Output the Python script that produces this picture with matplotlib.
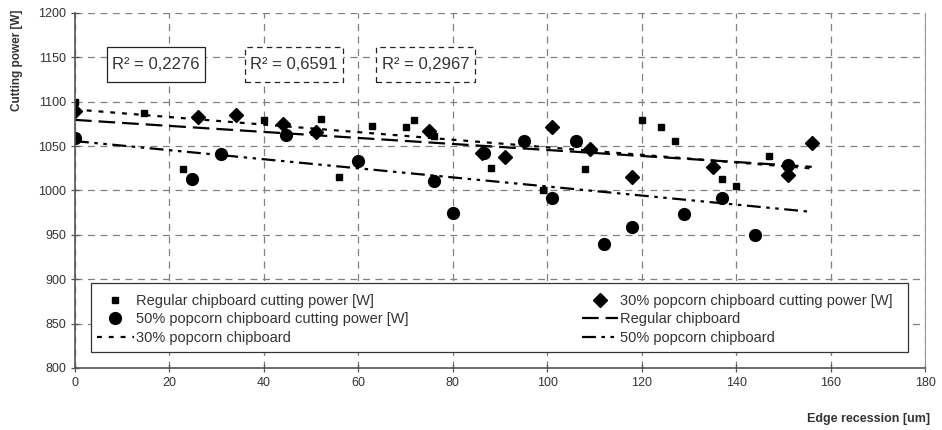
import numpy as np
import matplotlib
matplotlib.use("Agg")
import matplotlib.pyplot as plt
from matplotlib.patches import Rectangle

plt.rcParams['font.family'] = ['Liberation Sans', 'DejaVu Sans']
plt.rcParams['lines.scale_dashes'] = False

# readings
reg_x = [0, 14.6, 22.9, 40, 52, 56, 62.8, 70, 71.8, 76, 88, 99, 108, 120, 124, 127, 137, 140, 147]
reg_y = [1100, 1087, 1024, 1079, 1081, 1015, 1073, 1071, 1079, 1061, 1025, 1001, 1024, 1079, 1072, 1056, 1013, 1005, 1039]

p30_x = [0, 26, 34, 44, 51, 75, 86.2, 91, 101, 109, 118, 135, 151, 156]
p30_y = [1090, 1082.5, 1085.4, 1074.5, 1066, 1066.5, 1042.6, 1038, 1072, 1047, 1015, 1026, 1017, 1054]

p50_x = [0, 24.7, 31, 44.6, 60, 76, 80, 86.7, 95, 101, 106, 112, 118, 129, 137, 144, 151]
p50_y = [1059, 1012.6, 1041, 1063, 1033, 1011, 975, 1042, 1056, 991, 1056, 940, 958.5, 973, 991.6, 949.5, 1029]

r2_labels = ["R² = 0,2276", "R² = 0,6591", "R² = 0,2967"]
r2_x = [17.2, 46.3, 74.2]
r2_y = [1142, 1142, 1142]

txt = '#333333'
grid = '#808080'

fig = plt.figure(figsize=(9.42, 4.30), dpi=100)
ax = fig.add_axes([0.0796, 0.1442, 0.9024, 0.8256])

def trend(xs, ys):
    k, b = np.polyfit(xs, ys, 1)
    xx = np.array([0, max(max(reg_x), max(p30_x), max(p50_x))])
    return xx, k * xx + b

h_reg, = ax.plot(reg_x, reg_y, 's', color='black', ms=4.8, ls='none',
                 label='Regular chipboard cutting power [W]')
h_30, = ax.plot(p30_x, p30_y, 'D', color='black', ms=7, ls='none',
                label='30% popcorn chipboard cutting power [W]')
h_50, = ax.plot(p50_x, p50_y, 'o', color='black', ms=8.5, ls='none',
                label='50% popcorn chipboard cutting power [W]')

xx, yy = trend(reg_x, reg_y)
l_reg, = ax.plot(xx, yy, color='black', lw=1.6, ls=(0, (12, 5)), label='Regular chipboard')
xx, yy = trend(p30_x, p30_y)
l_30, = ax.plot(xx, yy, color='black', lw=1.6, ls=(0, (3.5, 5)), label='30% popcorn chipboard')
xx, yy = trend(p50_x, p50_y)
l_50, = ax.plot(xx, yy, color='black', lw=1.6, ls=(0, (10, 4, 2.5, 4, 2.5, 4)),
                label='50% popcorn chipboard')

# R² labels with their frames
box_w, box_h = 20.8, 39.4
styles = ['-', (0, (4, 3)), (0, (4, 3))]
for lab, x, y, s in zip(r2_labels, r2_x, r2_y, styles):
    ax.add_patch(Rectangle((x - box_w / 2, y - box_h / 2), box_w, box_h,
                           fc='white', ec='#222222', lw=0.9, ls=s, zorder=3))
    ax.text(x, y, lab, ha='center', va='center', fontsize=12, color=txt, zorder=4)

ax.set_xlim(0, 180)
ax.set_ylim(800, 1200)
ax.set_xticks(np.arange(0, 181, 20))
ax.set_yticks(np.arange(800, 1201, 50))
ax.grid(True, color=grid, ls=(0, (5, 4)), lw=0.9)
ax.set_axisbelow(True)
ax.tick_params(direction='inout', length=6, width=0.9, colors='#555555',
               labelcolor=txt, labelsize=9)
for s in ['left', 'bottom']:
    ax.spines[s].set_color('#555555')
    ax.spines[s].set_linewidth(1.2)
ax.spines['right'].set_color('#999999')
ax.spines['top'].set_visible(False)

# legend frame, then legend contents without their own frame
ax.add_patch(Rectangle((0.0188, 0.045), 0.961, 0.194, transform=ax.transAxes,
                       fc='white', ec='#333333', lw=0.9, zorder=5))
leg = ax.legend(handles=[h_reg, h_50, l_30, h_30, l_reg, l_50], ncol=2,
                loc='center left', bbox_to_anchor=(0.026, 0.137),
                fontsize=10.5, frameon=False, handlelength=2.5,
                handletextpad=0.15, borderaxespad=0, borderpad=0,
                labelspacing=0.32, columnspacing=11.9)
leg.set_zorder(6)
for t in leg.get_texts():
    t.set_color(txt)

fig.text(17 / 942, 1 - 60 / 430, 'Cutting power [W]', rotation=90, ha='center',
         va='center', fontsize=8.5, fontweight='bold', color=txt)
fig.text(930 / 942, 1 - 419 / 430, 'Edge recession [um]', ha='right',
         va='center', fontsize=9, fontweight='bold', color=txt)

fig.savefig('out.png', dpi=100)
